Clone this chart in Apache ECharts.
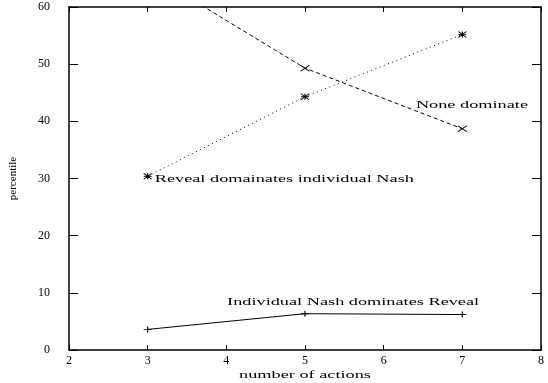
<!DOCTYPE html>
<html><head><meta charset="utf-8">
<script src="https://cdn.jsdelivr.net/npm/echarts@6/dist/echarts.min.js"></script>
<style>html,body{margin:0;padding:0;background:#fff}#c{width:548px;height:383px}</style>
</head><body><div id="c"></div>
<script>
const xValues = [3, 5, 7];
const noneDominate = [66.0, 49.3, 38.7];
const revealDominates = [30.4, 44.3, 55.2];
const nashDominates = [3.6, 6.35, 6.2];
const xTicks = [2, 3, 4, 5, 6, 7, 8];
const yTicks = [0, 10, 20, 30, 40, 50, 60];
const seriesNames = ['None dominate', 'Reveal domainates individual Nash', 'Individual Nash dominates Reveal'];
const xAxisTitle = 'number of actions';
const yAxisTitle = 'percentile';

const FONT = '"Liberation Serif", "Times New Roman", serif';
const chart = echarts.init(document.getElementById('c'), null, {renderer: 'canvas'});

function pairs(vals) { return xValues.map((x, i) => [x, vals[i]]); }

const CROSS = 'path://M0,0L10,10M0,10L10,0';
const PLUS = 'path://M5,0L5,10M0,5L10,5';
const STAR = 'path://M0,0L10,10M0,10L10,0M5,0L5,10M0,5L10,5';

function mkSeries(name, vals, symbol, size, dash) {
  return {
    name, type: 'line', data: pairs(vals), clip: true,
    symbol, symbolSize: size, showSymbol: true,
    itemStyle: {color: '#000', borderColor: '#000', borderWidth: 1},
    lineStyle: {color: '#000', width: 1, type: dash},
    emphasis: {disabled: true}, animation: false, z: 3
  };
}

const axisCommon = {
  type: 'value',
  axisLine: {show: true, onZero: false, lineStyle: {color: '#000', width: 1.5}},
  splitLine: {show: false},
  axisTick: {show: true, inside: true, lineStyle: {color: '#000', width: 1}},
};

chart.setOption({
  animation: false,
  backgroundColor: '#fff',
  grid: {left: 69, right: 7, top: 7, bottom: 33, containLabel: false},
  xAxis: [
    Object.assign({}, axisCommon, {position: 'bottom', min: xTicks[0], max: xTicks[xTicks.length-1], interval: 1,
      axisTick: Object.assign({}, axisCommon.axisTick, {length: 5}),
      axisLabel: {color: '#000', fontFamily: FONT, fontSize: 12, margin: 5}}),
    Object.assign({}, axisCommon, {position: 'top', min: xTicks[0], max: xTicks[xTicks.length-1], interval: 1,
      axisTick: Object.assign({}, axisCommon.axisTick, {length: 5}),
      axisLabel: {show: false}})
  ],
  yAxis: [
    Object.assign({}, axisCommon, {position: 'left', min: yTicks[0], max: yTicks[yTicks.length-1], interval: 10,
      axisTick: Object.assign({}, axisCommon.axisTick, {length: 9}),
      axisLabel: {color: '#000', fontFamily: FONT, fontSize: 12, margin: 19},
      name: yAxisTitle, nameLocation: 'middle', nameGap: 50,
      nameTextStyle: {color: '#000', fontFamily: FONT, fontSize: 11}}),
    Object.assign({}, axisCommon, {position: 'right', min: yTicks[0], max: yTicks[yTicks.length-1], interval: 10,
      axisTick: Object.assign({}, axisCommon.axisTick, {length: 9}),
      axisLabel: {show: false}})
  ],
  series: [
    mkSeries(seriesNames[0], noneDominate, CROSS, [9, 6], [4, 3]),
    mkSeries(seriesNames[1], revealDominates, STAR, [8, 6], [1, 3.5]),
    mkSeries(seriesNames[2], nashDominates, PLUS, [8, 6], 'solid')
  ]
});

// annotation texts placed in data coordinates
const ann = [
  {text: seriesNames[0], at: [6.41, 42.9]},
  {text: seriesNames[1], at: [3.09, 29.9]},
  {text: seriesNames[2], at: [4.01, 8.45]}
];
const els = ann.map(a => {
  const p = chart.convertToPixel({gridIndex: 0}, a.at);
  return {type: 'text', x: p[0], y: p[1], scaleX: 1.66, z: 10,
    style: {text: a.text, font: '11px ' + FONT, fill: '#000', textAlign: 'left', textVerticalAlign: 'middle', align: 'left', verticalAlign: 'middle'}};
});
const mid = chart.convertToPixel({gridIndex: 0}, [(xTicks[0] + xTicks[xTicks.length-1]) / 2, 0]);
els.push({type: 'text', x: mid[0], y: mid[1] + 25, scaleX: 1.66, z: 10,
  style: {text: xAxisTitle, font: '11px ' + FONT, fill: '#000', textAlign: 'center', textVerticalAlign: 'middle', align: 'center', verticalAlign: 'middle'}});
chart.setOption({graphic: {elements: els}});
</script>
</body></html>
